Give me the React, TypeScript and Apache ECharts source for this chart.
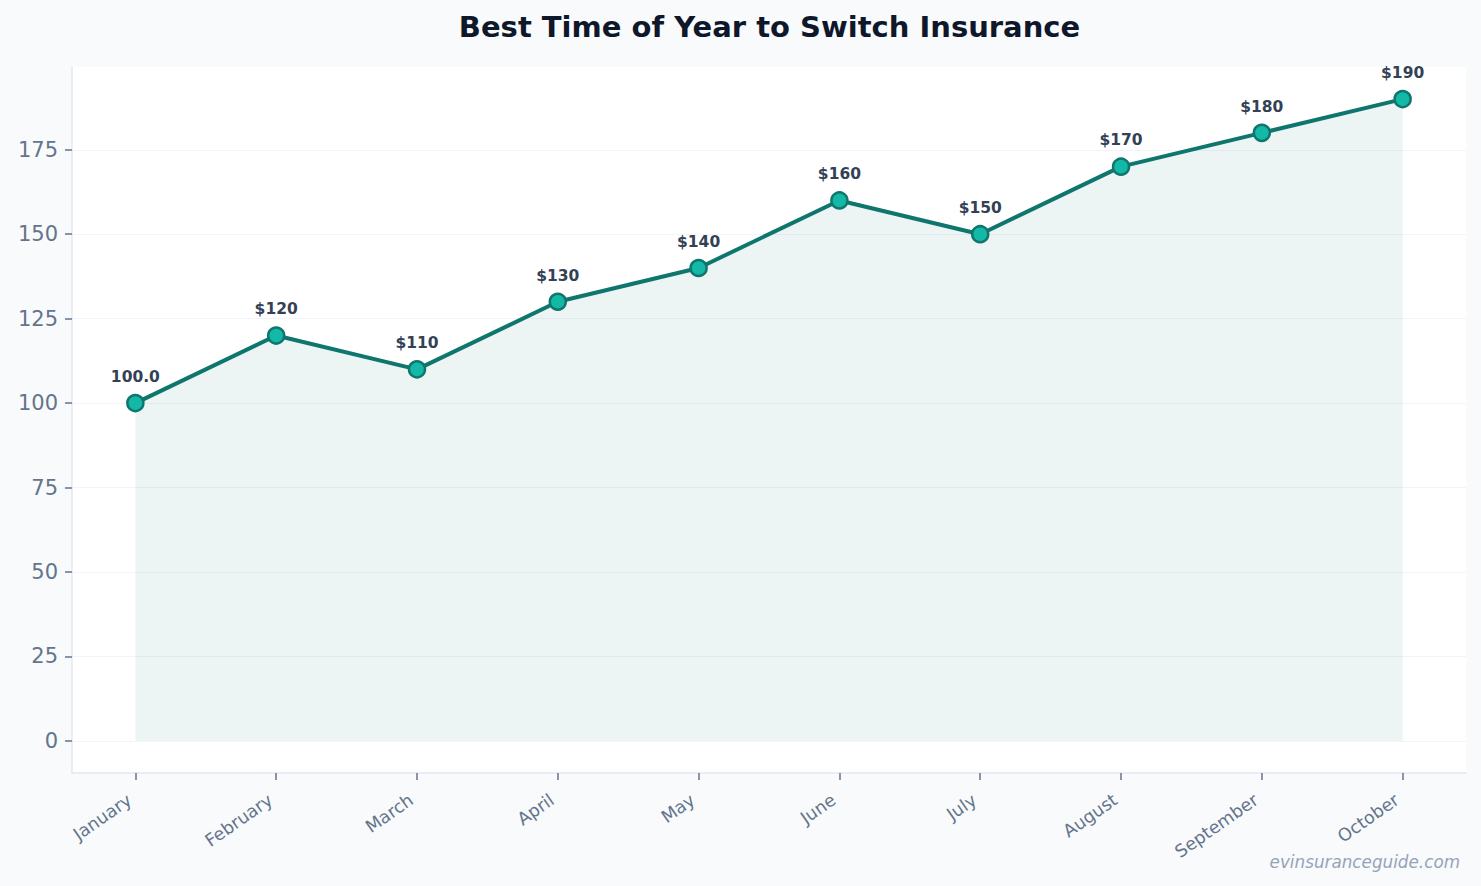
import React, { useEffect, useRef } from "react";
import * as echarts from "echarts";

const months = ["January", "February", "March", "April", "May", "June", "July", "August", "September", "October"];
const premiums = [100, 120, 110, 130, 140, 160, 150, 170, 180, 190];
const pointLabels = ["100.0", "$120", "$110", "$130", "$140", "$160", "$150", "$170", "$180", "$190"];
const yTicks = [0, 25, 50, 75, 100, 125, 150, 175];

const FONT = "DejaVu Sans";

export default function App() {
  const ref = useRef<HTMLDivElement>(null);

  useEffect(() => {
    if (!ref.current) return;
    const chart = echarts.init(ref.current, null, { renderer: "svg" });
    const xTicks = months.map((_, i) => i);

    chart.setOption({
      animation: false,
      backgroundColor: "#f8fafc",
      graphic: [
        {
          type: "text",
          x: 769.5,
          y: 27,
          style: {
            text: "Best Time of Year to Switch Insurance",
            fontFamily: FONT,
            fontSize: 29,
            fontWeight: "bold",
            fill: "#0f172a",
            align: "center",
            verticalAlign: "middle",
          },
        },
        {
          type: "text",
          x: 1460,
          y: 862,
          style: {
            text: "evinsuranceguide.com",
            fontFamily: FONT,
            fontSize: 16.8,
            fontStyle: "italic",
            fill: "#94a3b8",
            align: "right",
            verticalAlign: "middle",
          },
        },
      ],
      grid: {
        left: 72,
        top: 67,
        width: 1394,
        height: 706,
        show: true,
        backgroundColor: "#ffffff",
        borderWidth: 0,
      },
      xAxis: {
        type: "value",
        min: -0.45,
        max: 9.45,
        axisLine: { show: true, onZero: false, lineStyle: { color: "#e2e8f0", width: 1.5 } },
        axisTick: {
          show: true,
          customValues: xTicks,
          length: 7,
          lineStyle: { color: "#64748b", width: 1.5 },
        },
        axisLabel: {
          customValues: xTicks,
          formatter: (v: number) => months[Math.round(v)] ?? "",
          rotate: 35,
          margin: 21,
          padding: [0, 7, 0, 0],
          fontFamily: FONT,
          fontSize: 17.5,
          color: "#64748b",
        },
        splitLine: { show: false },
      },
      yAxis: {
        type: "value",
        min: -9.5,
        max: 199.5,
        axisLine: { show: true, onZero: false, lineStyle: { color: "#e2e8f0", width: 1.5 } },
        axisTick: {
          show: true,
          customValues: yTicks,
          length: 7,
          lineStyle: { color: "#64748b", width: 1.5 },
        },
        axisLabel: {
          customValues: yTicks,
          margin: 14,
          fontFamily: FONT,
          fontSize: 21,
          color: "#64748b",
        },
        splitLine: { show: false },
      },
      series: [
        {
          type: "line",
          data: premiums.map((v, i) => [i, v]),
          lineStyle: { color: "#0f766e", width: 4 },
          areaStyle: { color: "rgba(15,118,110,0.11)", origin: 0 },
          symbol: "circle",
          symbolSize: 16,
          itemStyle: { color: "#14b8a6", borderColor: "#0f766e", borderWidth: 2.5 },
          label: {
            show: true,
            position: "top",
            distance: 9,
            formatter: (p: any) => pointLabels[p.dataIndex],
            fontFamily: FONT,
            fontSize: 15.5,
            fontWeight: "bold",
            color: "#334155",
          },
          markLine: {
            silent: true,
            symbol: "none",
            label: { show: false },
            lineStyle: { color: "#f1f5f9", width: 1, type: "solid" },
            data: yTicks.map((t) => ({ yAxis: t })),
            z: 0,
          },
          z: 3,
        },
      ],
    });

    return () => chart.dispose();
  }, []);

  return (
    <div
      ref={ref}
      style={{ position: "fixed", left: 0, top: 0, width: 1481, height: 886 }}
    />
  );
}
